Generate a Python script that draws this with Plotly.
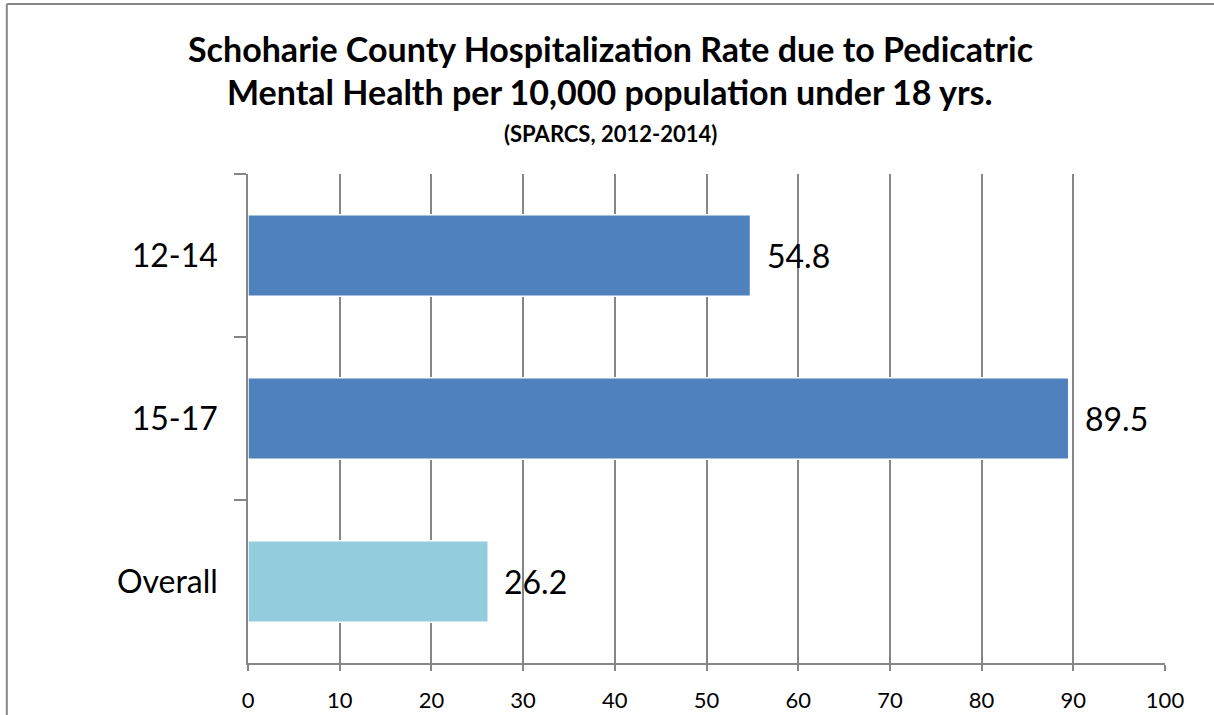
import plotly.graph_objects as go

# data
categories = ['12-14', '15-17', 'Overall']
rates = [54.8, 89.5, 26.2]
bar_colors = ['#4F81BD', '#4F81BD', '#93CDDD']
x_ticks = [0, 10, 20, 30, 40, 50, 60, 70, 80, 90, 100]

title_line1 = 'Schoharie County Hospitalization Rate due to Pedicatric'
title_line2 = 'Mental Health per 10,000 population under 18 yrs.'
subtitle = '(SPARCS, 2012-2014)'

FONT = 'Lato'

fig = go.Figure()
fig.add_trace(go.Bar(
    x=rates, y=categories, orientation='h',
    marker=dict(color=bar_colors, line=dict(color='white', width=1.5)),
    width=0.5,
    hoverinfo='x+y',
))

# value labels to the right of each bar
for cat, val in zip(categories, rates):
    fig.add_annotation(x=val, y=cat, text=f'{val:.1f}', showarrow=False,
                       xanchor='left', yanchor='middle', xshift=14,
                       font=dict(family=FONT, size=32, color='black'))

# titles
fig.add_annotation(xref='paper', yref='paper', x=0.395, y=1.257, text=f'<b>{title_line1}</b>',
                   showarrow=False, xanchor='center', yanchor='middle',
                   font=dict(family=FONT, size=34, color='black'))
fig.add_annotation(xref='paper', yref='paper', x=0.395, y=1.169, text=f'<b>{title_line2}</b>',
                   showarrow=False, xanchor='center', yanchor='middle',
                   font=dict(family=FONT, size=34, color='black'))
fig.add_annotation(xref='paper', yref='paper', x=0.395, y=1.082, text=f'<b>{subtitle}</b>',
                   showarrow=False, xanchor='center', yanchor='middle',
                   font=dict(family=FONT, size=22, color='black'))

# chart frame (left and top edges only visible)
fig.add_shape(type='line', xref='paper', yref='paper', x0=-0.263, x1=-0.263, y0=-0.2, y1=1.3476,
              line=dict(color='#888888', width=2))
fig.add_shape(type='line', xref='paper', yref='paper', x0=-0.263, x1=1.1, y0=1.3476, y1=1.3476,
              line=dict(color='#888888', width=2))

fig.update_layout(
    width=1214, height=715,
    margin=dict(l=248, r=49, t=174, b=52),
    plot_bgcolor='white', paper_bgcolor='white',
    showlegend=False,
    bargap=0.5,
    font=dict(family=FONT, color='black'),
    xaxis=dict(range=[0, 100], tickvals=x_ticks, showgrid=True, gridcolor='#868686', gridwidth=1.5,
               showline=True, linecolor='#868686', linewidth=1.5, zeroline=False, automargin=False,
               ticks='outside', ticklen=6, tickcolor='#868686', tickwidth=1.5, ticklabelstandoff=11,
               tickfont=dict(family=FONT, size=22, color='black')),
    yaxis=dict(autorange='reversed', showgrid=False, showline=True, linecolor='#868686', linewidth=1.5,
               ticks='outside', tickson='boundaries', ticklen=12, tickcolor='#868686', tickwidth=1.5,
               ticklabelstandoff=22, automargin=False,
               tickfont=dict(family=FONT, size=32, color='black')),
)

# drop the default page margin so the figure sits at the window's corner
fig.write_html('out.html', config={'displayModeBar': False},
               post_script="document.body.style.margin='0';")
